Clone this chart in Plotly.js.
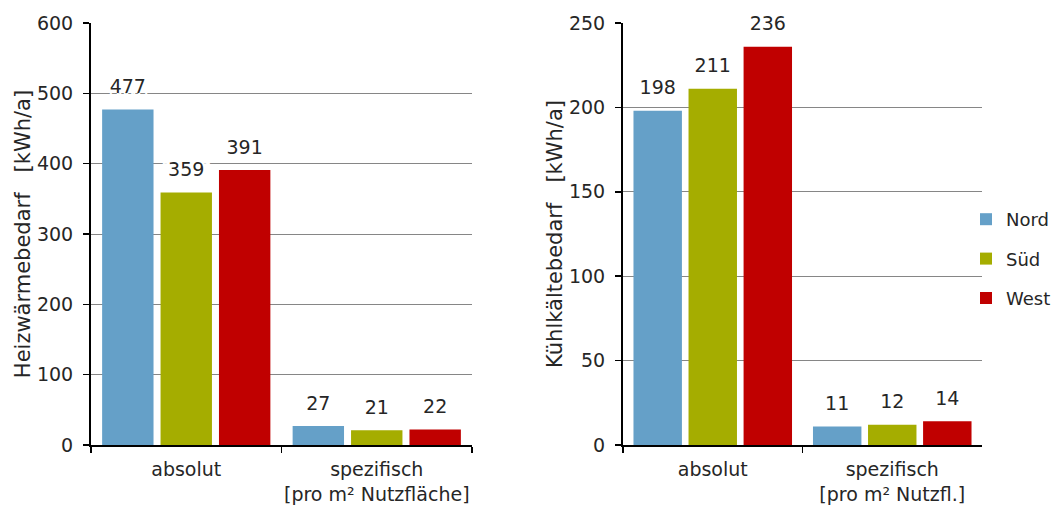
<!DOCTYPE html>
<html>
<head>
<meta charset="utf-8">
<script src="https://cdn.plot.ly/plotly-3.0.1.min.js"></script>
<style>html,body{margin:0;padding:0;background:#fff;}#chart{width:1055px;height:507px;}</style>
</head>
<body>
<div id="chart"></div>
<script>
// ---- data ----
const categoriesLeft = ["absolut", "spezifisch<br>[pro m² Nutzfläche]"];
const categoriesRight = ["absolut", "spezifisch<br>[pro m² Nutzfl.]"];
const seriesNames = ["Nord", "Süd", "West"];
const heizNord = [477, 27];
const heizSued = [359, 21];
const heizWest = [391, 22];
const kuehlNord = [198, 11];
const kuehlSued = [211, 12];
const kuehlWest = [236, 14];
const leftTicks = [0, 100, 200, 300, 400, 500, 600];
const rightTicks = [0, 50, 100, 150, 200, 250];

// ---- style ----
const colors = ["#65A0C8", "#A5AD00", "#C00000"];
const FONT = "DejaVu Sans, sans-serif";
const TXT = "#262626";
const HALO = "-7px 0 0 #fff, 7px 0 0 #fff, 0 -3px 0 #fff, 0 3px 0 #fff, -7px -3px 0 #fff, 7px 3px 0 #fff, -7px 3px 0 #fff, 7px -3px 0 #fff";

function barTrace(name, x, y, color, xa, ya, showlegend) {
  return {
    type: "bar", name: name, x: x, y: y,
    xaxis: xa, yaxis: ya,
    marker: {color: color, line: {width: 0}},
    legendgroup: name, showlegend: showlegend,
    hoverinfo: "x+y"
  };
}
function labelTrace(name, x, y, xa, ya) {
  return {
    type: "scatter", mode: "markers+text", name: name + " label", x: x, y: y,
    xaxis: xa, yaxis: ya,
    text: y.map(String), textposition: "top center",
    textfont: {family: FONT, size: 19, color: TXT, shadow: HALO},
    marker: {size: 17, opacity: 0},
    cliponaxis: false, showlegend: false, hoverinfo: "skip"
  };
}

const leftSeries = [heizNord, heizSued, heizWest];
const rightSeries = [kuehlNord, kuehlSued, kuehlWest];
const traces = [];
seriesNames.forEach((n, i) => traces.push(barTrace(n, categoriesLeft, leftSeries[i], colors[i], "x", "y", true)));
seriesNames.forEach((n, i) => traces.push(barTrace(n, categoriesRight, rightSeries[i], colors[i], "x2", "y2", false)));
seriesNames.forEach((n, i) => traces.push(labelTrace(n, categoriesLeft, leftSeries[i], "x", "y")));
seriesNames.forEach((n, i) => traces.push(labelTrace(n, categoriesRight, rightSeries[i], "x2", "y2")));

const yBase = {
  showline: true, linecolor: "#000", linewidth: 2,
  ticks: "outside", ticklen: 6, tickwidth: 1.5, tickcolor: "#000",
  showgrid: true, gridcolor: "#868686", gridwidth: 1,
  zeroline: false,
  tickfont: {family: FONT, size: 19, color: TXT},
  ticklabelstandoff: 6,
  domain: [1 - 445/507, 1 - 23/507]
};
const xBase = {
  type: "category", tickangle: 0,
  showline: true, linecolor: "#000", linewidth: 2,
  ticks: "outside", tickson: "boundaries", ticklen: 6, tickwidth: 1.5, tickcolor: "#000",
  showgrid: false, zeroline: false,
  ticklabelstandoff: 6,
  tickfont: {family: FONT, size: 19, color: TXT}
};

const layout = {
  width: 1055, height: 507,
  margin: {l: 0, r: 0, t: 0, b: 0, autoexpand: false},
  paper_bgcolor: "#fff", plot_bgcolor: "#fff",
  font: {family: FONT, color: TXT},
  barmode: "group", bargap: 0.08, bargroupgap: 0.12,
  scattermode: "group", scattergap: 0.08,
  showlegend: true,
  legend: {
    x: 966/1055, y: 1 - 259/507, xanchor: "left", yanchor: "middle",
    font: {family: FONT, size: 18, color: TXT},
    traceorder: "grouped", tracegroupgap: 13,
    bgcolor: "rgba(0,0,0,0)"
  },
  xaxis: Object.assign({}, xBase, {domain: [91/1055, 472/1055], anchor: "y"}),
  xaxis2: Object.assign({}, xBase, {domain: [623/1055, 982/1055], anchor: "y2"}),
  yaxis: Object.assign({}, yBase, {
    anchor: "x", range: [0, 600], tickvals: leftTicks,
    title: {text: "Heizwärmebedarf&nbsp;&nbsp; [kWh/a]", font: {family: FONT, size: 21, color: TXT}}
  }),
  yaxis2: Object.assign({}, yBase, {
    anchor: "x2", range: [0, 250], tickvals: rightTicks,
    title: {text: "Kühlkältebedarf&nbsp;&nbsp; [kWh/a]", font: {family: FONT, size: 21, color: TXT}}
  })
};

Plotly.newPlot("chart", traces, layout, {displayModeBar: false, staticPlot: true});
</script>
</body>
</html>
